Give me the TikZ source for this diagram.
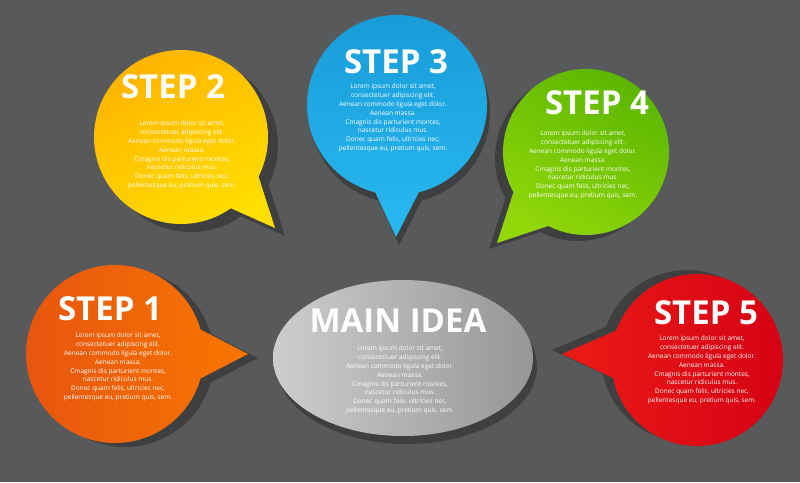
\documentclass[tikz,border=0pt]{standalone}
\usepackage{fontspec}
\usepackage{tikz}
\newfontfamily\titlefont{Open Sans}[FakeBold=0]
\newfontfamily\bodyfont{Open Sans}
\definecolor{bggray}{HTML}{58595B}
\definecolor{shadowgray}{HTML}{3E3F41}
\newcommand{\loremtext}{Lorem ipsum dolor sit amet,\\consectetuer adipiscing elit.\\Aenean commodo ligula eget dolor.\\Aenean massa.\\Cmagnis dis parturient montes,\\nascetur ridiculus mus.\\Donec quam felis, ultricies nec,\\pellentesque eu, pretium quis, sem.}

\begin{document}
\begin{tikzpicture}
            [x=1pt, y=-1pt,
             steptitle/.style={inner sep=0pt, text=white, font=\titlefont\bfseries\fontsize{33}{33}\selectfont},
             steptext/.style={inner sep=0pt, text=white, align=center, font=\bodyfont\fontsize{6.5}{8.8}\selectfont},
             bubbleshadow/.style={fill=shadowgray}]
                \fill[bggray] (0,0) rectangle (800,482);
                \useasboundingbox (0,0) rectangle (800,482);
                % shadows
                \fill[bubbleshadow] ([shift={(16:89)}]125,358) arc[start angle=16, end angle=344, radius=89] -- (258,358) -- cycle;
                \fill[bubbleshadow] ([shift={(55:87)}]191,145) arc[start angle=55, end angle=387, radius=87] -- (285,236) -- cycle;
                \fill[bubbleshadow] ([shift={(104:90)}]400,113) arc[start angle=104, end angle=436, radius=90] -- (399,245) -- cycle;
                \fill[bubbleshadow] ([shift={(151:83)}]578,158) arc[start angle=151, end angle=477, radius=83] -- (489,249) -- cycle;
                \fill[bubbleshadow] ([shift={(200:86)}]687,356) arc[start angle=200, end angle=528, radius=86] -- (552,350) -- cycle;
                \fill[bubbleshadow] (407,366) ellipse[x radius=130, y radius=78];
                % bubbles
                \shade[left color={rgb,255:red,230;green,84;blue,16}, right color={rgb,255:red,248;green,118;blue,0}] ([shift={(16:89)}]115,354) arc[start angle=16, end angle=344, radius=89] -- (248,354) -- cycle;
                \shade[top color={rgb,255:red,255;green,178;blue,0}, bottom color={rgb,255:red,255;green,222;blue,0}, shading angle=30] ([shift={(55:87)}]181,137) arc[start angle=55, end angle=387, radius=87] -- (275,228) -- cycle;
                \shade[top color={rgb,255:red,24;green,155;blue,215}, bottom color={rgb,255:red,40;green,185;blue,240}] ([shift={(104:90)}]397,105) arc[start angle=104, end angle=436, radius=90] -- (396,237) -- cycle;
                \shade[top color={rgb,255:red,88;green,180;blue,0}, bottom color={rgb,255:red,145;green,215;blue,10}, shading angle=-30] ([shift={(151:83)}]586,152) arc[start angle=151, end angle=477, radius=83] -- (497,243) -- cycle;
                \shade[left color={rgb,255:red,235;green,28;blue,22}, right color={rgb,255:red,212;green,0;blue,20}] ([shift={(200:86)}]697,360) arc[start angle=200, end angle=528, radius=86] -- (562,354) -- cycle;
                \shade[left color={rgb,255:red,205;green,205;blue,205}, right color={rgb,255:red,150;green,150;blue,150}] (403,358) ellipse[x radius=130, y radius=78];
                % texts
                \node (step1title) [steptitle] at (110,309) {STEP 1};
                \node (step1text) [steptext] at (118,367) {\loremtext};
                \node (step2title) [steptitle] at (173,87) {STEP 2};
                \node (step2text) [steptext] at (182,155) {\loremtext};
                \node (step3title) [steptitle] at (396,62) {STEP 3};
                \node (step3text) [steptext] at (393,118) {\loremtext};
                \node (step4title) [steptitle] at (597,103) {STEP 4};
                \node (step4text) [steptext] at (583,165) {\loremtext};
                \node (step5title) [steptitle] at (706,313) {STEP 5};
                \node (step5text) [steptext] at (702,370) {\loremtext};
                \node (maintitle) [steptitle] at (398,321) {MAIN IDEA};
                \node (maintext) [steptext] at (400,380) {\loremtext};
            \end{tikzpicture}
\end{document}
